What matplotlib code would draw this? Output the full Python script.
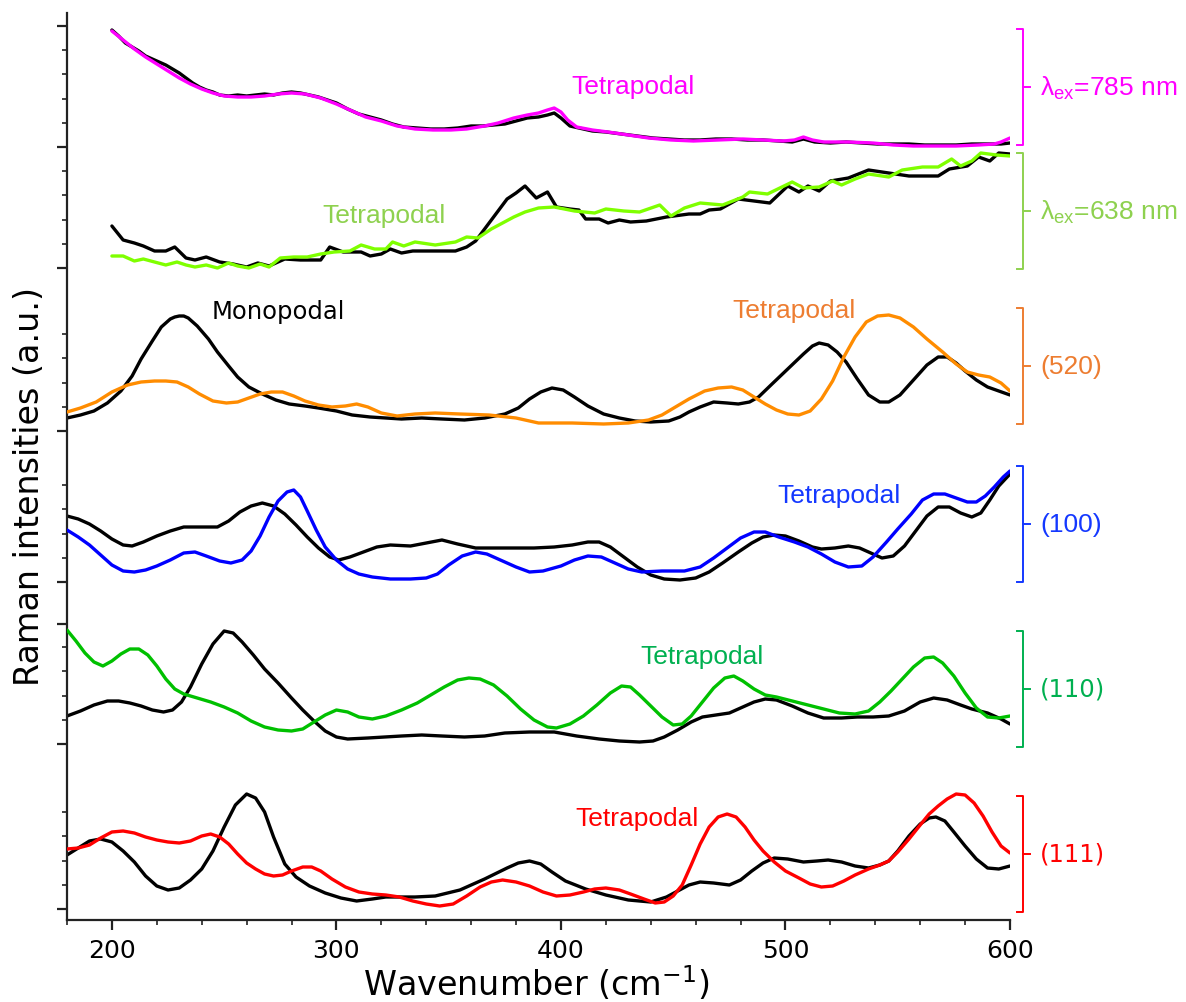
import numpy as np
import matplotlib
matplotlib.use("Agg")
import matplotlib.pyplot as plt
from matplotlib.ticker import FixedLocator, MultipleLocator
from matplotlib.transforms import blended_transform_factory

# ---------------- data (intensity in a.u., relative to each trace baseline) ----------------
# lambda_ex = 785 nm
wn_785_tetra = [200,205,210,215,220,225,230,235,240,245,250,256,262,268,274,280,286,293,300,307,
                313,320,327,335,343,351,358,366,372,379,385,390,394,397,400,403,407,414,421,430,
                439,449,459,470,481,490,499,504,508,512,517,528,539,548,557,566,576,586,593,596,600]
int_785_tetra = [116,107,98,90,83,76,69,63,58,54,51,50,50,51,53,54,53,49,43,36,
                 30,26,21,18,17,17,18,21,24,29,32,34,37,39,35,27,20,17,15,12,
                 9,7,6,7,8,7,6,7,10,7,5,5,4,2,1,1,1,2,3,5,9]
wn_785_mono = [200,203,206,209,212,215,218,221,224,227,230,233,236,239,242,245,248,252,256,260,
               264,268,272,276,280,284,288,292,296,300,305,310,315,320,325,330,336,342,348,354,
               360,365,370,375,380,385,390,394,397,400,404,408,414,420,427,434,441,448,455,462,
               469,476,483,490,497,503,508,513,520,527,534,541,548,555,562,569,576,583,590,596,600]
int_785_mono = [117,111,104,100,96,91,88,85,82,78,74,69,64,60,57,55,52,51,52,51,
                52,53,52,54,55,54,52,50,47,44,38,33,30,27,23,20,19,18,18,19,
                21,21,22,23,26,29,30,32,34,29,21,19,16,15,13,11,9,8,7,7,
                8,8,7,7,6,5,8,5,4,5,4,3,3,3,2,2,2,3,3,3,4]

# lambda_ex = 638 nm
wn_638_tetra = [200,205,210,214,219,224,229,233,237,242,247,252,256,261,266,270,275,281,287,293,
                299,306,311,317,322,325,330,335,344,353,358,363,369,374,379,384,390,397,406,415,
                420,428,435,444,449,455,462,472,481,484,492,503,508,515,521,525,531,537,546,552,
                561,568,574,578,583,587,594,600]
int_638_tetra = [12,12,7,9,6,3,6,3,1,3,0,5,2,0,4,1,10,11,11,14,
                 16,17,23,19,19,26,22,26,23,26,31,30,39,45,51,56,60,61,57,55,
                 59,57,56,63,52,60,65,63,71,76,74,86,80,81,87,83,89,94,91,98,
                 101,101,109,102,107,115,113,112]
wn_638_mono = [200,205,210,214,219,224,228,233,237,242,248,254,260,265,270,277,284,293,297,303,
               311,315,320,324,329,334,344,353,358,362,367,372,376,380,384,389,394,398,404,408,
               411,417,421,426,431,438,447,457,462,466,471,479,486,493,501,506,510,515,520,528,
               537,546,555,568,573,581,586,591,595,600]
int_638_mono = [42,28,25,22,17,17,21,10,8,11,6,4,1,5,2,9,8,8,21,16,
                16,12,14,19,15,17,17,17,21,27,42,57,69,75,82,70,76,61,59,58,
                49,49,45,48,46,47,51,54,54,58,59,69,67,65,82,76,82,77,87,90,
                98,95,92,92,99,102,111,107,115,114]

# (520) facet
wn_520_mono = [180,186,192,198,204,209,213,218,222,226,228,230,232,234,238,243,247,252,256,261,267,273,
               279,286,292,300,307,315,329,338,347,357,366,375,381,386,391,396,401,406,412,419,
               426,433,440,448,453,457,462,468,474,479,484,488,494,501,508,512,515,519,523,527,
               532,537,542,546,551,557,563,568,572,576,580,585,590,595,600]
int_520_mono = [13,16,20,28,40,55,72,90,104,112,114,115,115,113,105,92,79,65,54,44,37,31,
                27,25,23,20,16,14,12,13,12,11,13,17,23,32,39,43,41,34,25,17,
                13,10,9,10,14,19,24,29,28,27,29,34,47,62,77,85,88,86,79,69,
                52,36,29,29,36,51,66,74,74,68,60,51,44,40,36]
wn_520_tetra = [180,186,193,200,207,213,219,224,229,234,239,245,251,256,261,266,271,276,281,286,
                292,298,304,309,314,320,327,335,344,355,368,380,390,405,419,430,439,445,451,457,
                464,470,476,481,486,491,496,501,506,511,516,521,526,531,536,541,546,551,557,563,
                570,576,581,586,591,596,600]
int_520_tetra = [19,23,29,39,46,49,50,50,49,44,37,30,28,29,33,37,39,39,35,30,
                 26,24,25,27,24,18,15,17,18,17,16,13,8,8,7,8,11,16,24,32,
                 40,43,44,41,34,27,21,17,16,20,32,50,74,94,109,115,116,113,104,92,
                 79,67,59,56,54,48,40]

# (100) facet
wn_100_mono = [180,185,190,195,200,205,209,214,220,226,232,240,247,252,257,262,267,272,277,282,
               287,292,297,301,306,312,318,324,333,340,347,354,362,370,379,388,397,405,412,417,
               422,428,434,440,446,453,460,466,472,479,485,490,495,500,506,512,516,522,528,533,
               538,543,548,553,558,563,568,573,578,583,587,591,595,600]
int_100_mono = [66,63,58,51,43,37,36,40,46,51,55,55,55,61,70,76,79,76,68,57,
                45,34,25,22,25,30,35,37,36,39,42,38,34,34,34,34,35,37,40,40,
                35,25,15,7,3,2,4,10,19,30,39,45,47,46,41,35,33,34,36,34,
                29,24,26,36,51,66,75,75,69,65,69,82,96,108]
wn_100_tetra = [180,185,190,195,200,205,210,215,220,226,232,237,242,248,253,258,262,266,270,274,
                278,281,284,287,291,295,300,305,310,316,324,333,340,345,350,356,362,367,373,380,
                386,392,400,406,412,418,424,430,436,445,455,462,468,474,480,486,491,497,504,510,
                516,522,528,534,539,545,550,556,561,566,571,576,581,585,589,593,597,600]
int_100_tetra = [52,45,37,27,17,11,10,12,16,22,29,30,26,21,19,22,31,46,65,81,
                 90,92,85,71,52,35,22,13,8,5,3,3,4,8,17,26,30,28,22,15,
                 10,11,16,22,26,25,19,13,10,11,11,15,24,34,44,50,50,45,40,35,
                 28,20,15,16,25,40,53,68,82,88,88,84,80,80,86,95,105,111]

# (110) facet
wn_110_mono = [180,186,192,198,203,208,213,218,223,227,231,235,240,245,250,254,258,263,268,274,
               280,285,290,295,300,305,314,329,338,347,357,366,375,386,397,407,417,426,435,441,
               446,452,458,463,469,475,480,486,491,496,503,510,517,525,532,539,546,553,560,566,
               572,578,583,590,596,600]
int_110_mono = [28,33,39,43,43,41,38,34,32,34,42,57,80,100,113,111,102,89,75,61,
                46,34,23,13,7,5,6,8,9,8,7,8,11,12,12,8,5,3,2,3,
                7,14,22,27,29,31,36,42,45,44,38,31,26,26,27,27,28,33,42,46,
                44,39,35,31,25,20]
wn_110_tetra = [180,184,188,192,196,200,204,208,212,216,220,224,228,232,238,244,250,256,262,268,
                274,280,285,290,295,300,305,310,316,322,329,336,342,348,354,359,364,370,376,382,
                388,394,398,404,410,416,422,427,431,435,440,445,450,454,458,463,468,473,477,481,
                486,491,496,503,510,517,524,531,537,542,547,552,557,562,566,570,575,580,585,590,
                595,600]
int_110_tetra = [114,103,91,82,78,83,90,95,95,89,78,65,55,50,46,42,37,31,23,17,
                 14,13,15,22,29,34,32,27,25,28,34,41,49,57,64,66,65,59,48,35,
                 24,17,16,20,28,39,51,58,57,49,38,27,19,20,28,42,56,66,68,63,
                 55,49,47,43,39,35,31,30,33,42,53,65,77,86,87,81,68,51,36,27,
                 26,28]

# (111) facet
wn_111_mono = [180,185,190,195,200,205,210,215,220,225,230,235,240,245,250,255,260,264,268,272,
               277,282,288,295,302,309,316,322,335,344,355,366,376,381,386,391,396,402,411,420,
               430,440,447,452,457,462,468,475,480,485,490,495,501,508,514,519,525,531,537,542,
               546,550,555,560,564,567,571,575,580,585,590,595,600]
int_111_mono = [54,61,68,70,67,58,47,33,23,19,21,29,40,58,82,104,115,111,97,72,
                45,32,23,16,11,8,10,12,12,13,19,30,41,46,48,45,37,28,20,14,
                9,7,12,18,24,27,26,24,29,38,46,51,50,47,48,49,47,43,41,44,
                48,58,73,85,91,92,88,77,63,50,41,40,43]
wn_111_tetra = [180,185,190,195,200,205,210,215,220,225,230,235,240,244,248,252,256,260,264,268,
                272,276,280,285,289,293,298,304,310,316,322,328,334,340,346,352,358,364,369,374,
                380,386,392,398,404,410,415,420,426,431,437,442,446,450,454,458,462,466,470,474,
                478,482,486,490,495,500,506,511,516,521,526,531,537,542,546,550,555,560,564,568,
                572,576,580,584,588,592,596,600]
int_111_tetra = [60,61,64,71,77,78,76,72,69,67,66,68,73,75,72,65,55,46,40,35,
                 33,34,38,42,42,38,30,22,17,15,14,12,8,5,3,5,13,22,27,29,
                 27,23,17,13,14,17,20,21,19,15,10,6,7,13,24,44,65,82,92,95,
                 92,82,69,58,47,38,31,25,22,23,28,34,40,44,48,57,70,84,95,103,
                 110,115,114,106,93,77,63,56]

panel_labels = ["λ$_{\\mathregular{ex}}$=785 nm", "λ$_{\\mathregular{ex}}$=638 nm",
                "(520)", "(100)", "(110)", "(111)"]
x_ticks = [200, 300, 400, 500, 600]

# ---------------- layout / style ----------------
W, H = 1186, 1003
fig = plt.figure(figsize=(W / 100, H / 100), dpi=100)
ax = fig.add_axes([67 / W, 82 / H, 943 / W, 907 / H])

offsets = [773, 652, 489, 338, 176, 11]          # baseline of each trace
line_cols = ["#FF00FF", "#7FFF00", "#FF8C00", "#0000FF", "#00C000", "#FF0000"]
text_cols = ["#FF00FF", "#8ED14F", "#ED7D31", "#1438FF", "#00B050", "#FF0000"]

pairs = [
    (wn_785_mono, int_785_mono, wn_785_tetra, int_785_tetra),
    (wn_638_mono, int_638_mono, wn_638_tetra, int_638_tetra),
    (wn_520_mono, int_520_mono, wn_520_tetra, int_520_tetra),
    (wn_100_mono, int_100_mono, wn_100_tetra, int_100_tetra),
    (wn_110_mono, int_110_mono, wn_110_tetra, int_110_tetra),
    (wn_111_mono, int_111_mono, wn_111_tetra, int_111_tetra),
]
for i, (wm, im, wt, it) in enumerate(pairs):
    off = offsets[i]
    ax.plot(wm, np.asarray(im) + off, color="black", lw=2.4, solid_joinstyle="round",
            solid_capstyle="round", zorder=2)
    ax.plot(wt, np.asarray(it) + off, color=line_cols[i], lw=2.4, solid_joinstyle="round",
            solid_capstyle="round", zorder=3)

ax.set_xlim(180, 600)
ax.set_ylim(0, 907)

for s in ["top", "right"]:
    ax.spines[s].set_visible(False)
for s in ["left", "bottom"]:
    ax.spines[s].set_linewidth(1.6)
    ax.spines[s].set_color("#222222")

ax.xaxis.set_major_locator(FixedLocator(x_ticks))
ax.xaxis.set_minor_locator(MultipleLocator(20))
major_y = offsets + [offsets[0] + 121, offsets[4] + 120]
minor_y = [b + 24.2 * k for b in offsets for k in range(1, 5)]
ax.yaxis.set_major_locator(FixedLocator(major_y))
ax.yaxis.set_minor_locator(FixedLocator(minor_y))
ax.tick_params(axis="both", which="major", direction="out", length=7, width=1.6,
               color="#222222", labelsize=18, labelleft=False, pad=6)
ax.tick_params(axis="both", which="minor", direction="out", length=3.5, width=1.2,
               color="#222222", labelleft=False)

fig.text(30 / W, 1 - 487 / H, "Raman intensities (a.u.)", rotation=90,
         ha="center", va="center", fontsize=24, family="DejaVu Sans")
fig.text(536 / W, 1 - 984 / H, "Wavenumber (cm$^{-1}$)", ha="center", va="center",
         fontsize=24, family="DejaVu Sans")

# trace annotations
ax.text(432, 834, "Tetrapodal", color=text_cols[0], fontsize=19, family="Liberation Sans",
        ha="center", va="center")
ax.text(321, 705, "Tetrapodal", color=text_cols[1], fontsize=19, family="Liberation Sans",
        ha="center", va="center")
ax.text(274, 609, "Monopodal", color="black", fontsize=17.5, family="DejaVu Sans",
        ha="center", va="center")
ax.text(504, 610, "Tetrapodal", color=text_cols[2], fontsize=19, family="Liberation Sans",
        ha="center", va="center")
ax.text(524, 425, "Tetrapodal", color=text_cols[3], fontsize=19, family="Liberation Sans",
        ha="center", va="center")
ax.text(463, 264, "Tetrapodal", color=text_cols[4], fontsize=19, family="Liberation Sans",
        ha="center", va="center")
ax.text(434, 102, "Tetrapodal", color=text_cols[5], fontsize=19, family="Liberation Sans",
        ha="center", va="center")

# right-hand brackets with facet / excitation labels
tr = blended_transform_factory(ax.transAxes, ax.transData)
br_low = [offsets[0] + 2, offsets[1] - 1, offsets[2] + 7, offsets[3], offsets[4] - 3, offsets[5] - 3]
xb, xc, xt, xl = 1.0138, 1.0074, 1.0212, 1.0318
label_fonts = ["Liberation Sans"] * 4 + ["DejaVu Sans"] * 2
label_sizes = [19, 19, 19, 19, 17.5, 17.5]
for i in range(6):
    lo = br_low[i]
    hi = lo + 116
    mid = (lo + hi) / 2
    c = text_cols[i]
    ax.plot([xc, xb, xb, xc], [lo, lo, hi, hi], color=c, lw=1.4, transform=tr, clip_on=False)
    ax.plot([xb, xt], [mid, mid], color=c, lw=1.4, transform=tr, clip_on=False)
    ax.text(xl, mid, panel_labels[i], color=c, fontsize=label_sizes[i], family=label_fonts[i],
            ha="left", va="center", transform=tr)

fig.savefig("out.png", dpi=100)
